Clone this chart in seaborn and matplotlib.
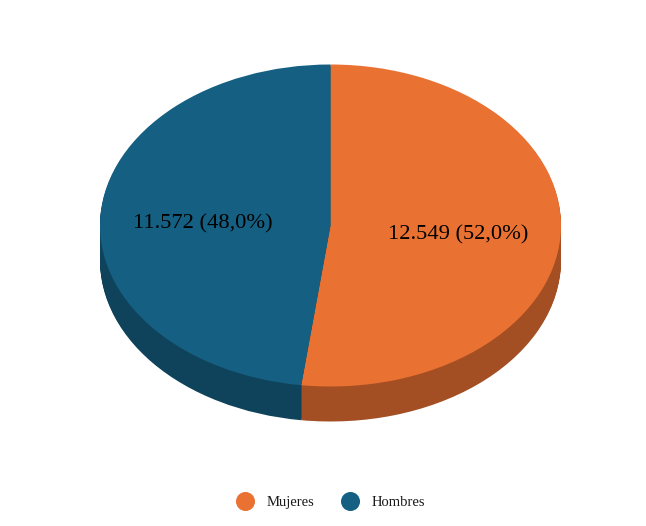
# coding: utf-8
"""
Pie chart 3D Mujeres / Hombres
"""
import matplotlib
matplotlib.use('Agg')
import matplotlib.pyplot as plt
from matplotlib.lines import Line2D
import numpy as np
import seaborn as sns

categorias = ['Mujeres', 'Hombres']
valores = [12549, 11572]
colores = ['#E97132', '#156082']
colores_lado = ['#A34F23', '#0F435B']

sns.set_theme(style='white')
plt.rcParams['font.family'] = ['Liberation Serif', 'DejaVu Serif']

W, H = 646, 526
CX, CY, RX, RY, PROF = 330.5, 225.5, 230.5, 161, 35


def etiqueta(pct):
    """12.549 (52,0%)"""
    total = sum(valores)
    n = int(round(pct / 100 * total))
    return f"{n:,}".replace(',', '.') + f" ({pct:.1f}%)".replace('.', ',')


fig = plt.figure(figsize=(W / 100, H / 100), dpi=100, facecolor='white')
ax = fig.add_axes([0, 0, 1, 1])

# la pared lateral: pilas de pies desplazadas
for dy in np.arange(PROF, 0, -1):
    ax.pie(valores, colors=colores_lado, startangle=90, counterclock=False,
           center=(0, -dy / RY), wedgeprops={'linewidth': 0})

wedges, _, autotexts = ax.pie(valores, colors=colores, startangle=90, counterclock=False,
                              autopct=etiqueta, pctdistance=0.555,
                              wedgeprops={'linewidth': 0},
                              textprops={'fontsize': 16.2, 'color': 'black'})
for texto in autotexts:
    texto.set_y(texto.get_position()[1] - 4 / RY)

ax.set_aspect('auto')
ax.set_xlim(-CX / RX, (W - CX) / RX)
ax.set_ylim(-(H - CY) / RY, CY / RY)
ax.axis('off')

handles = [Line2D([], [], linestyle='', marker='o', markersize=13.7, color=c, markeredgewidth=0)
           for c in colores]
fig.legend(handles, categorias, ncols=2, loc='center', bbox_to_anchor=(327.5 / W, 1 - 502 / H),
           frameon=False, fontsize=10.5, handletextpad=0.5, columnspacing=1.42,
           labelcolor='#1a1a1a')

fig.savefig('out.png', dpi=100)
